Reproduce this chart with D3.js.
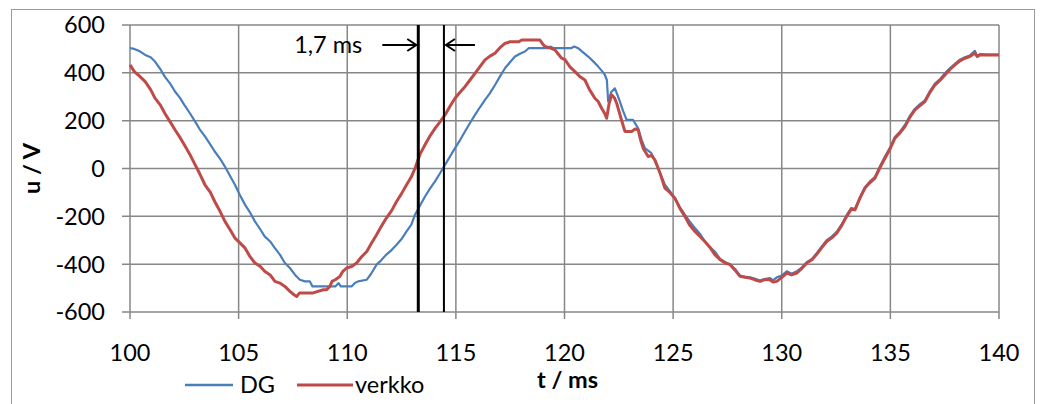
<!DOCTYPE html>
<html>
<head>
<meta charset="utf-8">
<script src="https://cdn.jsdelivr.net/npm/d3@7"></script>
<style>
  body { margin: 0; background: #fff; }
  text { font-family: Lato, "Open Sans", sans-serif; fill: #000; }
</style>
</head>
<body>
<svg id="chart"></svg>
<script>
// time axis (ms) and voltage axis (V)
const xTicks = [100, 105, 110, 115, 120, 125, 130, 135, 140];
const yTicks = [-600, -400, -200, 0, 200, 400, 600];

// DG measurement
const dgT = [100.0, 100.2, 100.45, 100.7, 100.95, 101.15, 101.4, 101.6, 101.85, 102.07, 102.3, 102.5, 102.75, 103.0, 103.2, 103.45, 103.7, 103.9, 104.15, 104.37, 104.6, 104.83, 105.05, 105.3, 105.5, 105.75, 106.0, 106.2, 106.45, 106.67, 106.9, 107.13, 107.36, 107.6, 107.82, 108.05, 108.28, 108.4, 108.8, 109.2, 109.45, 109.6, 109.7, 110.0, 110.2, 110.35, 110.5, 110.9, 111.1, 111.35, 111.55, 111.8, 112.05, 112.27, 112.5, 112.73, 112.95, 113.12, 113.35, 113.58, 113.8, 114.04, 114.27, 114.5, 114.73, 114.96, 115.2, 115.42, 115.65, 115.88, 116.1, 116.34, 116.57, 116.8, 117.03, 117.26, 117.5, 117.72, 117.95, 118.18, 118.35, 119.0, 119.25, 119.35, 119.5, 120.0, 120.3, 120.45, 120.63, 120.8, 121.09, 121.3, 121.55, 121.75, 121.86, 121.95, 122.01, 122.15, 122.32, 122.45, 122.55, 122.7, 122.86, 123.16, 123.39, 123.55, 123.7, 124.0, 124.15, 124.31, 124.45, 124.62, 124.85, 125.08, 125.3, 125.54, 125.75, 126.0, 126.25, 126.46, 126.7, 126.92, 127.16, 127.4, 127.62, 127.85, 128.08, 128.3, 128.54, 128.75, 129.0, 129.2, 129.46, 129.6, 129.77, 130.0, 130.23, 130.45, 130.69, 130.9, 131.15, 131.4, 131.6, 131.85, 132.07, 132.3, 132.53, 132.75, 132.99, 133.2, 133.37, 133.6, 133.83, 134.05, 134.29, 134.5, 134.75, 135.0, 135.21, 135.45, 135.67, 135.9, 136.13, 136.35, 136.59, 136.8, 137.05, 137.3, 137.51, 137.75, 137.97, 138.2, 138.43, 138.65, 138.89, 139.0, 139.12, 139.5, 140.0];
const dgU = [503, 500, 490, 475, 465, 447, 415, 384, 355, 322, 295, 266, 232, 196, 165, 134, 100, 71, 40, 8, -30, -68, -110, -152, -180, -221, -255, -284, -305, -333, -360, -395, -416, -445, -465, -472, -472, -493, -493, -493, -493, -479, -493, -493, -493, -479, -472, -465, -440, -402, -385, -360, -340, -319, -295, -263, -235, -193, -155, -117, -85, -54, -20, 15, 50, 85, 120, 155, 190, 224, 255, 287, 315, 349, 385, 419, 445, 468, 480, 489, 503, 503, 503, 510, 503, 503, 503, 510, 503, 490, 468, 450, 426, 405, 391, 370, 280, 320, 335, 305, 280, 240, 203, 203, 168, 120, 85, 64, 35, 1, -30, -68, -95, -124, -160, -193, -220, -249, -275, -305, -330, -347, -378, -392, -400, -420, -448, -452, -455, -460, -468, -462, -458, -468, -455, -448, -430, -440, -430, -415, -392, -378, -355, -325, -300, -285, -265, -235, -195, -165, -170, -120, -78, -55, -35, 5, 50, 90, 132, 155, 182, 220, 250, 268, 285, 320, 355, 375, 398, 420, 438, 455, 465, 472, 492, 470, 478, 476, 476];

// verkko (grid) measurement
const verkkoT = [100.0, 100.2, 100.45, 100.7, 100.95, 101.15, 101.4, 101.6, 101.85, 102.07, 102.3, 102.5, 102.75, 103.0, 103.2, 103.45, 103.7, 103.9, 104.15, 104.37, 104.6, 104.83, 105.05, 105.3, 105.5, 105.75, 106.0, 106.2, 106.45, 106.67, 106.9, 107.13, 107.36, 107.55, 107.67, 107.8, 107.97, 108.2, 108.4, 108.65, 108.9, 109.05, 109.2, 109.3, 109.45, 109.66, 109.8, 109.97, 110.2, 110.43, 110.65, 110.9, 111.1, 111.35, 111.55, 111.8, 112.05, 112.27, 112.5, 112.73, 112.95, 113.12, 113.35, 113.58, 113.8, 114.04, 114.27, 114.5, 114.73, 114.96, 115.2, 115.42, 115.65, 115.88, 116.1, 116.34, 116.57, 116.8, 117.03, 117.26, 117.5, 117.9, 118.03, 118.4, 118.87, 119.0, 119.1, 119.3, 119.56, 119.7, 119.87, 120.02, 120.25, 120.48, 120.7, 120.94, 121.15, 121.4, 121.55, 121.71, 121.85, 121.94, 122.05, 122.17, 122.3, 122.4, 122.6, 122.78, 123.09, 123.25, 123.39, 123.5, 123.62, 123.85, 124.0, 124.16, 124.4, 124.62, 124.85, 125.08, 125.3, 125.54, 125.75, 126.0, 126.25, 126.46, 126.7, 126.92, 127.16, 127.4, 127.62, 127.85, 128.08, 128.3, 128.54, 128.75, 129.0, 129.2, 129.46, 129.6, 129.77, 130.0, 130.23, 130.45, 130.69, 130.9, 131.15, 131.4, 131.6, 131.85, 132.07, 132.3, 132.53, 132.75, 132.99, 133.2, 133.37, 133.6, 133.83, 134.05, 134.29, 134.5, 134.75, 135.0, 135.21, 135.45, 135.67, 135.9, 136.13, 136.35, 136.59, 136.8, 137.05, 137.3, 137.51, 137.75, 137.97, 138.2, 138.43, 138.65, 138.89, 139.0, 139.12, 139.5, 140.0];
const verkkoU = [433, 405, 385, 363, 330, 294, 265, 231, 195, 162, 130, 99, 60, 15, -20, -68, -100, -138, -180, -221, -255, -291, -310, -333, -365, -395, -410, -430, -445, -472, -479, -493, -514, -528, -535, -521, -521, -521, -521, -514, -507, -507, -493, -472, -465, -451, -430, -416, -410, -395, -370, -347, -315, -277, -245, -207, -175, -138, -105, -68, -35, 1, 60, 99, 135, 168, 195, 224, 260, 294, 320, 342, 370, 398, 425, 454, 470, 482, 505, 523, 530, 530, 537, 537, 537, 520, 510, 505, 496, 480, 461, 455, 425, 405, 385, 370, 330, 294, 280, 252, 230, 210, 270, 308, 295, 273, 210, 155, 155, 165, 162, 120, 85, 50, 55, 36, -20, -82, -100, -124, -165, -200, -235, -263, -285, -305, -330, -360, -381, -395, -402, -425, -451, -455, -458, -465, -472, -465, -465, -475, -472, -455, -437, -445, -437, -420, -395, -380, -360, -330, -305, -290, -270, -240, -200, -170, -173, -124, -82, -60, -40, 0, 43, 85, 127, 150, 175, 215, 245, 262, 280, 315, 349, 370, 391, 415, 433, 450, 461, 468, 482, 468, 475, 475, 475];

// phase-shift markers (ms) and their label
const markerT = [113.27, 114.45];
const markerLabel = "1,7 ms";

const seriesNames = ["DG", "verkko"];
const seriesColors = ["#4a7ebb", "#be4b48"];

class VoltageChart {

    constructor(el) {
        this.el = d3.select(el);
    }

    draw() {
        const margin = {top: 25, right: 41, bottom: 92, left: 130},
            width = 1040 - margin.left - margin.right,
            height = 404 - margin.top - margin.bottom;
        const grey = "#878787";
        const fs = "23.5px";

        this.x = d3.scaleLinear().domain([100, 140]).range([0, width]);
        this.y = d3.scaleLinear().domain([-600, 600]).range([height, 0]);

        const svg = this.el
            .attr("width", 1040)
            .attr("height", 404);

        // chart frame
        svg.append("rect")
            .attr("x", 11.5).attr("y", 9.5)
            .attr("width", 1023).attr("height", 420)
            .attr("fill", "none")
            .attr("stroke", "#9a9a9a")
            .attr("stroke-width", 1);

        const g = svg.append("g")
            .attr("transform", "translate(" + margin.left + "," + margin.top + ")");

        // grid
        g.selectAll(".hgrid").data(yTicks).enter().append("line")
            .attr("x1", -8).attr("x2", width)
            .attr("y1", d => this.y(d)).attr("y2", d => this.y(d))
            .attr("stroke", grey).attr("stroke-width", 1.5);

        g.selectAll(".vgrid").data(xTicks).enter().append("line")
            .attr("x1", d => this.x(d)).attr("x2", d => this.x(d))
            .attr("y1", 0).attr("y2", height + 7)
            .attr("stroke", grey).attr("stroke-width", 1.5);

        // tick labels
        g.selectAll(".ylab").data(yTicks).enter().append("text")
            .attr("x", -25)
            .attr("y", d => this.y(d))
            .attr("dy", "0.36em")
            .attr("text-anchor", "end")
            .attr("font-size", fs)
            .text(d => d);

        g.selectAll(".xlab").data(xTicks).enter().append("text")
            .attr("x", d => this.x(d))
            .attr("y", height + 49)
            .attr("text-anchor", "middle")
            .attr("font-size", fs)
            .text(d => d);

        // axis titles
        g.append("text")
            .attr("transform", "translate(-90," + this.y(0) + ") rotate(-90)")
            .attr("text-anchor", "middle")
            .attr("font-size", fs)
            .attr("font-weight", "bold")
            .text("u / V");

        g.append("text")
            .attr("x", this.x(120) + 3)
            .attr("y", height + 76)
            .attr("text-anchor", "middle")
            .attr("font-size", fs)
            .attr("font-weight", "bold")
            .text("t / ms");

        // curves
        const line = d3.line()
            .x(d => this.x(d[0]))
            .y(d => this.y(d[1]));

        const dg = dgT.map((t, i) => [t, dgU[i]]);
        const verkko = verkkoT.map((t, i) => [t, verkkoU[i]]);

        g.append("path")
            .datum(dg)
            .attr("fill", "none")
            .attr("stroke", seriesColors[0])
            .attr("stroke-width", 2.2)
            .attr("stroke-linejoin", "round")
            .attr("d", line);

        g.append("path")
            .datum(verkko)
            .attr("fill", "none")
            .attr("stroke", seriesColors[1])
            .attr("stroke-width", 3)
            .attr("stroke-linejoin", "round")
            .attr("d", line);

        // markers
        g.selectAll(".marker").data(markerT).enter().append("line")
            .attr("x1", d => this.x(d)).attr("x2", d => this.x(d))
            .attr("y1", 0).attr("y2", height)
            .attr("stroke", "#000")
            .attr("stroke-width", (d, i) => i === 0 ? 3 : 2);

        const ay = 20;
        const xa = this.x(markerT[0]) - 2, xb = this.x(markerT[1]) + 2;
        g.append("path")
            .attr("d", "M" + (xa - 34) + "," + ay + "H" + xa +
                "M" + (xa - 9) + "," + (ay - 6) + "L" + xa + "," + ay + "L" + (xa - 9) + "," + (ay + 6))
            .attr("fill", "none").attr("stroke", "#000").attr("stroke-width", 2);
        g.append("path")
            .attr("d", "M" + (xb + 29) + "," + ay + "H" + xb +
                "M" + (xb + 9) + "," + (ay - 6) + "L" + xb + "," + ay + "L" + (xb + 9) + "," + (ay + 6))
            .attr("fill", "none").attr("stroke", "#000").attr("stroke-width", 2);

        g.append("text")
            .attr("x", xa - 54)
            .attr("y", ay + 8)
            .attr("text-anchor", "end")
            .attr("font-size", fs)
            .text(markerLabel);

        // legend
        const legend = svg.append("g");
        const lx = [185, 297];
        seriesNames.forEach((name, i) => {
            legend.append("line")
                .attr("x1", lx[i]).attr("x2", lx[i] + (i === 0 ? 48 : 56))
                .attr("y1", 385).attr("y2", 385)
                .attr("stroke", seriesColors[i])
                .attr("stroke-width", i === 0 ? 2.5 : 3.2);
            legend.append("text")
                .attr("x", lx[i] + (i === 0 ? 55 : 58))
                .attr("y", 393)
                .attr("font-size", fs)
                .text(name);
        });
    }

}

new VoltageChart("#chart").draw();
</script>
</body>
</html>
